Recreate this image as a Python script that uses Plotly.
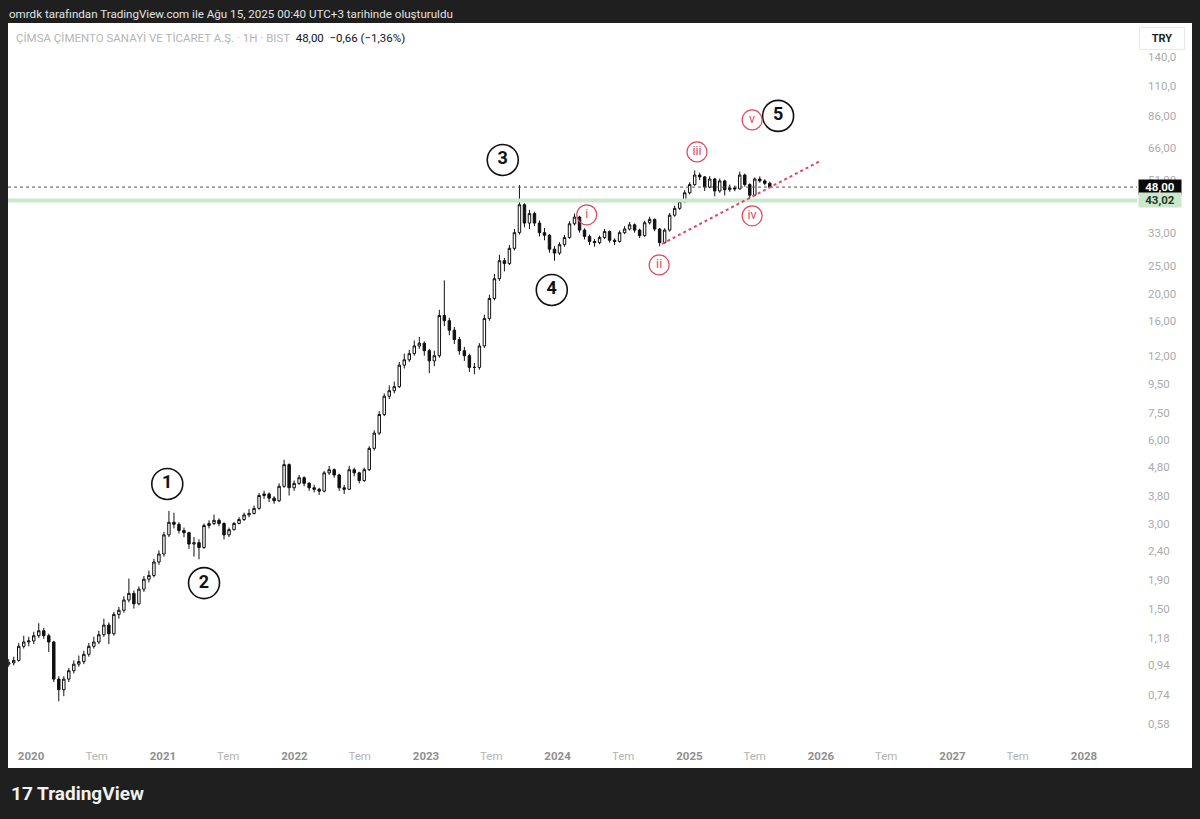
import numpy as np
import pandas as pd
import plotly.graph_objects as go

# ---------------- data ----------------
bar_start = "2019-10-31"
bar_end = "2025-08-12"

opens = [0.95,0.96,0.98,1.10,1.14,1.15,1.20,1.25,1.20,1.14,
0.84,0.77,0.84,0.90,0.95,0.97,1.03,1.10,1.14,1.21,
1.31,1.22,1.43,1.48,1.61,1.70,1.56,1.76,1.91,1.97,
2.20,2.35,2.75,3.05,3.00,2.85,2.80,2.55,2.58,2.48,
2.97,3.02,3.10,3.02,2.75,2.87,3.02,3.12,3.24,3.28,
3.42,3.80,3.85,3.72,3.64,4.10,4.90,4.05,4.20,4.40,
4.20,4.05,4.00,3.94,4.58,4.70,4.50,4.05,4.00,4.70,
4.58,4.30,4.70,5.60,6.35,7.40,8.60,9.00,9.30,11.1,
11.6,12.2,13.0,13.3,12.5,11.5,12.0,16.7,16.0,14.8,
13.7,12.5,12.0,10.9,10.9,13.0,16.3,19.2,22.6,26.2,
25.6,29.0,33.0,41.5,35.7,38.6,35.7,33.0,32.3,28.8,
27.9,29.9,31.7,35.5,37.5,33.7,32.0,30.7,30.4,31.7,
33.3,31.0,30.7,33.0,34.0,35.2,33.7,32.2,35.8,36.8,
34.0,30.4,33.7,38.1,40.3,42.6,45.8,49.0,53.0,52.2,
48.0,51.3,46.5,50.5,47.0,47.7,47.3,53.0,49.0,44.9,
51.3,50.5,49.5]

closes = [0.96,0.98,1.10,1.14,1.15,1.20,1.25,1.20,1.14,0.84,
0.77,0.84,0.90,0.95,0.97,1.03,1.10,1.14,1.21,1.31,
1.22,1.43,1.48,1.61,1.70,1.56,1.76,1.91,1.97,2.20,
2.35,2.75,3.05,3.00,2.85,2.80,2.55,2.58,2.48,2.97,
3.02,3.10,3.02,2.75,2.87,3.02,3.12,3.24,3.28,3.42,
3.80,3.85,3.72,3.64,4.10,4.90,4.05,4.20,4.40,4.20,
4.05,4.00,3.94,4.58,4.70,4.50,4.05,4.00,4.70,4.58,
4.30,4.70,5.60,6.35,7.40,8.60,9.00,9.30,11.1,11.6,
12.2,13.0,13.3,12.5,11.5,12.0,16.7,16.0,14.8,13.7,
12.5,12.0,10.9,10.9,13.0,16.3,19.2,22.6,26.2,25.6,
29.0,33.0,41.5,35.7,38.6,35.7,33.0,32.3,28.8,27.9,
29.9,31.7,35.5,37.5,33.7,32.0,30.7,30.4,31.7,33.3,
31.0,30.7,33.0,34.0,35.2,33.7,32.2,35.8,36.8,34.0,
30.4,33.7,38.1,40.3,42.6,45.8,49.0,53.0,52.2,48.0,
51.3,46.5,50.5,47.0,47.7,47.3,53.0,49.0,44.9,51.3,
50.5,49.5,48.0]

highs = [0.99,1.01,1.13,1.20,1.19,1.24,1.33,1.28,1.22,1.15,
0.86,0.86,0.92,0.98,1.02,1.06,1.13,1.19,1.25,1.38,
1.34,1.46,1.52,1.66,1.92,1.74,1.80,1.96,2.05,2.26,
2.42,2.82,3.35,3.30,3.05,2.92,2.82,2.70,2.65,3.02,
3.10,3.25,3.15,3.05,2.92,3.06,3.18,3.30,3.40,3.50,
3.88,3.95,3.90,3.78,4.20,5.10,4.95,4.30,4.50,4.45,
4.25,4.15,4.05,4.65,4.85,4.75,4.55,4.15,4.85,4.78,
4.62,4.78,5.70,6.50,7.60,8.80,9.40,9.70,11.4,12.2,
12.6,13.6,14.0,13.5,12.7,12.5,17.5,22.3,16.4,15.2,
14.0,12.9,12.2,11.3,13.3,16.8,19.8,23.5,27.5,26.8,
29.8,34.0,48.8,42.0,39.8,39.2,36.5,34.3,32.6,29.5,
30.5,32.4,36.2,38.6,37.9,34.2,32.5,31.3,32.2,34.0,
33.6,31.5,33.6,34.8,36.0,35.6,34.1,36.4,37.6,37.1,
34.3,34.2,38.8,41.2,43.5,46.8,50.0,55.0,54.0,52.6,
52.5,51.8,51.5,51.0,49.0,48.6,54.5,53.6,49.5,52.0,
52.4,51.2,50.2]

lows = [0.93,0.94,0.97,1.08,1.10,1.12,1.18,1.17,1.05,0.82,
0.70,0.73,0.82,0.88,0.93,0.95,1.01,1.08,1.12,1.19,
1.12,1.20,1.38,1.45,1.58,1.50,1.54,1.72,1.86,1.94,
2.15,2.30,2.70,2.90,2.78,2.70,2.45,2.30,2.25,2.45,
2.90,2.98,2.95,2.65,2.70,2.85,3.00,3.08,3.18,3.25,
3.38,3.70,3.60,3.55,3.60,4.05,3.80,3.95,4.15,4.10,
3.95,3.90,3.82,3.90,4.50,4.40,3.95,3.85,3.98,4.45,
4.20,4.25,4.65,5.50,6.25,7.30,8.40,8.80,9.20,10.8,
11.4,12.0,12.7,12.0,10.4,11.0,11.8,15.3,14.2,13.2,
12.1,11.5,10.5,10.3,10.7,12.8,16.0,18.9,22.2,24.0,
25.3,28.5,32.5,34.5,34.0,34.8,32.0,31.0,28.0,26.2,
27.5,29.4,31.4,35.0,33.0,31.2,29.8,29.4,30.0,31.3,
30.4,29.8,30.4,32.6,33.6,33.0,31.6,31.9,35.3,33.4,
29.5,30.1,33.3,37.6,39.8,42.2,45.2,48.5,50.8,46.5,
47.5,44.5,45.8,44.8,46.2,46.4,47.0,48.2,43.0,44.6,
49.8,48.7,47.6]

last_price = 48.00
support_price = 43.02

# Elliott wave labels
major_labels = ["1", "2", "3", "4", "5"]
major_dates = ["2021-01-13", "2021-04-25", "2023-08-02", "2023-12-16", "2025-09-04"]
major_prices = [4.18, 1.85, 60.0, 20.6, 86.2]

minor_labels = ["i", "ii", "iii", "iv", "v"]
minor_dates = ["2024-03-22", "2024-10-09", "2025-01-22", "2025-06-24", "2025-06-24"]
minor_prices = [38.2, 25.3, 64.1, 37.9, 83.4]

trend_dates = ["2024-10-17", "2025-12-30"]
trend_prices = [30.1, 59.5]

y_tick_vals = [0.58, 0.74, 0.94, 1.18, 1.5, 1.9, 2.4, 3.0, 3.8, 4.8, 6.0, 7.5, 9.5,
               12, 16, 20, 25, 33, 51, 66, 86, 110, 140]
y_tick_text = ["0,58", "0,74", "0,94", "1,18", "1,50", "1,90", "2,40", "3,00", "3,80",
               "4,80", "6,00", "7,50", "9,50", "12,00", "16,00", "20,00", "25,00",
               "33,00", "51,00", "66,00", "86,00", "110,0", "140,0"]

x_tick_dates = ["2020-01-01", "2020-07-01", "2021-01-01", "2021-07-01", "2022-01-01",
                "2022-07-01", "2023-01-01", "2023-07-01", "2024-01-01", "2024-07-01",
                "2025-01-01", "2025-07-01", "2026-01-01", "2026-07-01", "2027-01-01",
                "2027-07-01", "2028-01-01"]
x_tick_text = ["2020", "Tem", "2021", "Tem", "2022", "Tem", "2023", "Tem", "2024", "Tem",
               "2025", "Tem", "2026", "Tem", "2027", "Tem", "2028"]

x_range = ["2019-10-29", "2028-05-27"]
y_range = [0.505, 185.0]

# ---------------- layout geometry ----------------
W, H = 1200, 819
L, R, T, B = 8, 1137, 23, 741   # plot area in pixels


def pxx(x):
    return (x - L) / (R - L)


def pxy(y):
    return (B - y) / (B - T)


dates = pd.date_range(bar_start, bar_end, periods=len(closes))
FONT = "Roboto, Inter, sans-serif"
RED = "#dd4a5e"

fig = go.Figure()

fig.add_trace(go.Candlestick(
    x=dates, open=opens, high=highs, low=lows, close=closes,
    increasing=dict(line=dict(color="#111111", width=1), fillcolor="#ffffff"),
    decreasing=dict(line=dict(color="#111111", width=1), fillcolor="#111111"),
    whiskerwidth=0, hoverinfo="skip", showlegend=False,
))

# last price dotted line
fig.add_trace(go.Scatter(
    x=x_range, y=[last_price, last_price], mode="lines",
    line=dict(color="#555555", width=1, dash="dot"),
    hoverinfo="skip", showlegend=False,
))
# support line (green)
fig.add_trace(go.Scatter(
    x=x_range, y=[support_price, support_price], mode="lines",
    line=dict(color="#cbe7cd", width=4),
    hoverinfo="skip", showlegend=False,
))
# red dotted trendline
fig.add_trace(go.Scatter(
    x=trend_dates, y=trend_prices, mode="lines",
    line=dict(color=RED, width=2, dash="dot"),
    hoverinfo="skip", showlegend=False,
))
# major wave circles
fig.add_trace(go.Scatter(
    x=major_dates, y=major_prices, mode="markers+text",
    text=["<b>%s</b>" % s for s in major_labels],
    textposition="middle center",
    textfont=dict(family=FONT, size=18, color="#111111"),
    marker=dict(symbol="circle", size=31, color="rgba(255,255,255,0)",
                line=dict(color="#111111", width=1.6)),
    hoverinfo="skip", showlegend=False,
))
# minor wave circles
fig.add_trace(go.Scatter(
    x=minor_dates, y=minor_prices, mode="markers+text",
    text=minor_labels, textposition="middle center",
    textfont=dict(family=FONT, size=12.5, color=RED),
    marker=dict(symbol="circle", size=20, color="rgba(255,255,255,0)",
                line=dict(color=RED, width=1.2)),
    hoverinfo="skip", showlegend=False,
))

annotations = []
# header line on dark band
annotations.append(dict(
    xref="paper", yref="paper", x=pxx(7), y=pxy(14), xanchor="left", yanchor="middle",
    text="omrdk tarafından TradingView.com ile Ağu 15, 2025 00:40 UTC+3 tarihinde oluşturuldu",
    showarrow=False, font=dict(family=FONT, size=11.6, color="#e2e2e2"),
))
# symbol legend
annotations.append(dict(
    xref="paper", yref="paper", x=pxx(14), y=pxy(38), xanchor="left", yanchor="middle",
    text=("<span style='color:#b5b5b5'>ÇİMSA ÇİMENTO SANAYİ VE TİCARET A.Ş. · 1H · BIST</span>"
          "  <span style='color:#131313'>48,00  −0,66 (−1,36%)</span>"),
    showarrow=False, font=dict(family=FONT, size=11.5, color="#131313"),
))
# TRY box
annotations.append(dict(
    xref="paper", yref="paper", x=pxx(1162), y=pxy(38), xanchor="center", yanchor="middle",
    text="<b>TRY</b>", showarrow=False, font=dict(family=FONT, size=11, color="#222222"),
    bgcolor="#ffffff", bordercolor="#e8e8e8", borderwidth=1, borderpad=4, width=36,
))
# last price label
annotations.append(dict(
    xref="paper", yref="y", x=pxx(1138), y=np.log10(last_price), xanchor="left", yanchor="middle",
    text="<b>48,00</b>", showarrow=False, font=dict(family=FONT, size=11.5, color="#ffffff"),
    bgcolor="#0a0a0a", borderpad=0, width=42, height=14,
))
# support price label
annotations.append(dict(
    xref="paper", yref="y", x=pxx(1138), y=np.log10(support_price), xanchor="left", yanchor="middle",
    text="<b>43,02</b>", showarrow=False, font=dict(family=FONT, size=11.5, color="#1c3a1f"),
    bgcolor="#cbe7cd", borderpad=0, width=42, height=14,
))
# TradingView footer logo
annotations.append(dict(
    xref="paper", yref="paper", x=pxx(9), y=pxy(793), xanchor="left", yanchor="middle",
    text="<b>17 TradingView</b>", showarrow=False,
    font=dict(family=FONT, size=19, color="#f0f0f0"),
))

shapes = [
    # white chart panel
    dict(type="rect", xref="paper", yref="paper", x0=pxx(8), x1=pxx(1192),
         y0=pxy(768), y1=pxy(23), fillcolor="#ffffff", line=dict(width=0), layer="below"),
]

tick_text_html = [
    ("<span style='color:#8f8f8f'><b>%s</b></span>" % t) if t != "Tem"
    else "<span style='color:#b4b4b4'>%s</span>" % t
    for t in x_tick_text
]

fig.update_layout(
    width=W, height=H,
    margin=dict(l=L, r=W - R, t=T, b=H - B, pad=0),
    paper_bgcolor="#1f1f1f", plot_bgcolor="#ffffff",
    showlegend=False,
    annotations=annotations, shapes=shapes,
    xaxis=dict(
        type="date", range=x_range, rangeslider=dict(visible=False),
        tickmode="array", tickvals=x_tick_dates, ticktext=tick_text_html,
        showgrid=False, zeroline=False, showline=False, ticks="",
        tickfont=dict(family=FONT, size=11.5, color="#9a9a9a"),
        ticklabelstandoff=6, fixedrange=True,
    ),
    yaxis=dict(
        type="log", range=[np.log10(y_range[0]), np.log10(y_range[1])],
        side="right", tickmode="array", tickvals=y_tick_vals, ticktext=y_tick_text,
        showgrid=False, zeroline=False, showline=False, ticks="",
        tickfont=dict(family=FONT, size=11.5, color="#ababab"),
        ticklabelstandoff=10, fixedrange=True,
    ),
)

fig.write_html("out.html", config={"displayModeBar": False},
               post_script="document.body.style.margin='0px';document.body.style.background='#1f1f1f';")
